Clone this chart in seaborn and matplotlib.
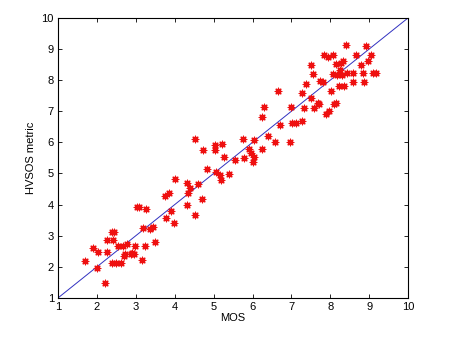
import matplotlib
matplotlib.use('Agg')
import matplotlib.pyplot as plt
import seaborn as sns

# MOS vs HVSOS metric
mos = [1.7, 1.9, 2.03, 2.0, 2.2, 2.25, 2.27, 2.38, 2.45, 2.42, 2.38, 2.5, 2.55, 2.63,
       2.68, 2.72, 2.76, 2.88, 2.94, 2.98, 3.02, 3.09, 3.25, 3.15, 3.19, 3.24, 3.37,
       3.43, 3.48, 3.75, 3.77, 3.84, 3.9, 3.97, 4.01, 4.31, 4.31, 4.35, 4.4, 4.51,
       4.53, 4.61, 4.7, 4.72, 4.83, 5.03, 5.04, 5.06, 5.17, 5.19, 5.22, 5.26, 5.39,
       5.56, 5.75, 5.78, 5.9, 5.97, 6.0, 6.03, 6.03, 6.25, 6.25, 6.29, 6.39, 6.57,
       6.66, 6.71, 6.96, 6.98, 7.02, 7.11, 7.28, 7.28, 7.33, 7.37, 7.5, 7.5, 7.56,
       7.58, 7.67, 7.71, 7.74, 7.82, 7.84, 7.88, 7.97, 8.01, 8.08, 8.1, 8.14, 8.06,
       8.14, 8.18, 8.23, 8.25, 8.27, 8.31, 8.33, 8.36, 8.4, 8.44, 8.57, 8.59, 8.66,
       8.79, 8.83, 8.86, 8.92, 8.96, 9.05, 9.09, 9.18, 7.93, 2.9, 2.7]
hvsos = [2.18, 2.6, 2.48, 1.97, 1.47, 2.48, 2.87, 3.13, 3.13, 2.87, 2.12, 2.12, 2.67,
         2.12, 2.67, 2.4, 2.73, 2.42, 2.4, 2.67, 3.91, 3.93, 3.86, 2.23, 3.24, 2.67,
         3.2, 3.27, 2.8, 4.26, 3.57, 4.37, 3.79, 3.41, 4.83, 3.99, 4.7, 4.37, 4.53,
         3.68, 6.12, 4.67, 4.18, 5.74, 5.14, 5.74, 5.9, 5.06, 4.95, 4.79, 5.94, 5.52,
         4.97, 5.43, 6.12, 5.49, 5.77, 5.66, 5.36, 5.54, 6.09, 5.79, 6.8, 7.14, 6.21,
         6.01, 7.66, 6.56, 6.01, 7.14, 6.62, 6.62, 6.7, 7.57, 7.11, 7.88, 7.44, 8.48,
         8.2, 7.11, 7.27, 7.22, 7.96, 7.93, 8.81, 6.91, 7.0, 7.66, 8.81, 7.22, 7.27,
         8.2, 8.51, 8.15, 7.82, 8.32, 8.54, 8.15, 8.6, 7.82, 9.13, 8.24, 8.24, 7.93,
         8.81, 8.48, 8.24, 7.93, 9.11, 8.6, 8.81, 8.24, 8.24, 8.75, 2.45, 2.35]
diag = [1, 10]
ticks = list(range(1, 11))

plt.rcParams['font.family'] = ['Liberation Sans', 'DejaVu Sans']
plt.rcParams['font.size'] = 8

fig = plt.figure(figsize=(4.5, 3.37), dpi=100)
ax = fig.add_axes([0.129, 0.116, 0.778, 0.831])

sns.lineplot(x=diag, y=diag, color='#3030c0', linewidth=0.7, ax=ax)
sns.scatterplot(x=mos, y=hvsos, marker=(8, 2, 0), color='#ee1010', s=22,
                linewidth=0.9, ax=ax, zorder=3)

ax.set_xlim(1, 10)
ax.set_ylim(1, 10)
ax.set_xticks(ticks)
ax.set_yticks(ticks)
ax.tick_params(direction='in', top=True, right=True, length=3, width=0.6, pad=3)
for s in ax.spines.values():
    s.set_linewidth(0.8)
ax.set_xlabel('MOS', labelpad=1)
ax.set_ylabel('HVSOS metric', labelpad=4)

fig.savefig('out.png', dpi=100)
